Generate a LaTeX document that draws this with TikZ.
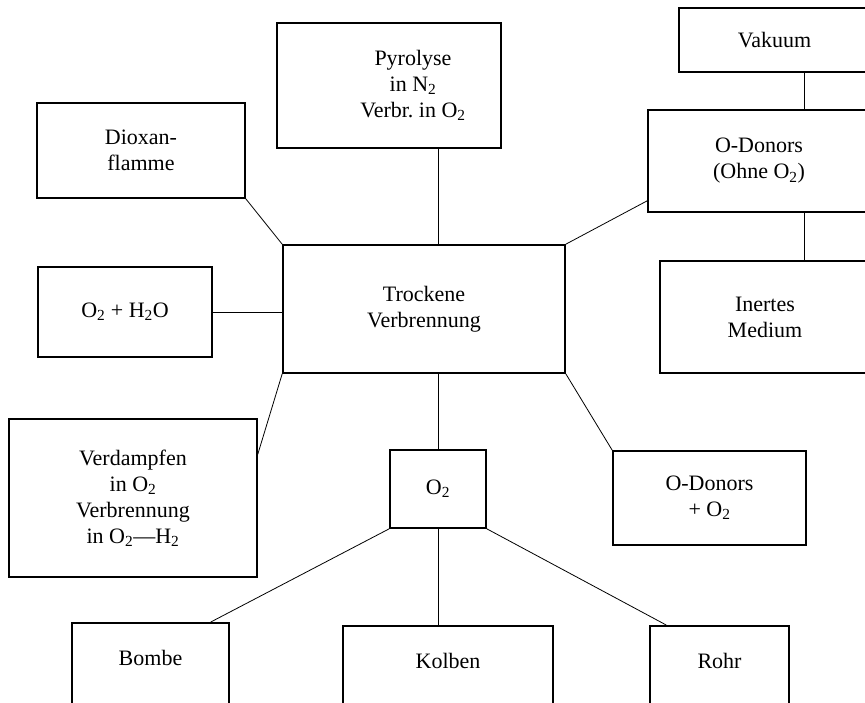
\documentclass[tikz,border=0pt]{standalone}
\usepackage{fontspec}
\setmainfont{Liberation Serif}
\tikzset{
  box/.style={rectangle,draw,line width=1.6pt,align=center,inner sep=0pt,
              font=\fontsize{22}{26}\selectfont},
  cut/.style={box,anchor=north,text height=43pt,text depth=80pt},
  lnk/.style={line width=0.8pt},
}

\begin{document}
\begin{tikzpicture}[x=1pt,y=-1pt]
  \useasboundingbox (0,0) rectangle (865,702);

  %% -- centre ---------------------------------------------------------------
  \node[box,minimum width=282pt,minimum height=128pt] (tv) at (424,309)
        {Trockene\\Verbrennung};

  %% -- left column ----------------------------------------------------------
  \node[box,minimum width=208pt,minimum height=95pt] (diox) at (141,150.5)
        {Dioxan-\\flamme};
  \node[box,minimum width=174pt,minimum height=90pt] (oh) at (125,312)
        {O\textsubscript{2} + H\textsubscript{2}O};
  \node[box,minimum width=248pt,minimum height=158pt] (verd) at (133,498)
        {Verdampfen\\in O\textsubscript{2}\\Verbrennung\\in O\textsubscript{2}---H\textsubscript{2}};

  %% -- top / middle ---------------------------------------------------------
  \node[box,minimum width=224pt,minimum height=125pt] (pyr) at (389,85.5)
        {\hspace*{48pt}Pyrolyse\\\hspace*{48pt}in N\textsubscript{2}\\\hspace*{48pt}Verbr.\ in O\textsubscript{2}};
  \node[box,minimum width=96pt,minimum height=78pt] (o2) at (438,489)
        {O\textsubscript{2}};

  %% -- right column ---------------------------------------------------------
  \coordinate (ax) at (804,0);
  \node[box,minimum width=191pt,minimum height=64pt] (vak) at (774.5,40)
        {Vakuum};
  \node[box,minimum width=222pt,minimum height=102pt] (odon) at (759,161)
        {O-Donors\\(Ohne O\textsubscript{2})};
  \node[box,minimum width=210pt,minimum height=112pt] (inert) at (765,317)
        {Inertes\\Medium};
  \node[box,minimum width=193pt,minimum height=94pt] (odo2) at (709.5,498)
        {O-Donors\\+ O\textsubscript{2}};

  %% -- bottom row -----------------------------------------------------------
  \node[cut,minimum width=157pt] (bombe)  at (150.5,622) {Bombe};
  \node[cut,minimum width=210pt] (kolben) at (448,625)   {Kolben};
  \node[cut,minimum width=139pt] (rohr)   at (719.5,625) {Rohr};

  %% -- connectors -----------------------------------------------------------
  \draw[lnk] (pyr.south -| o2) -- (tv.north -| o2);
  \draw[lnk] (diox.south east) -- (tv.north west);
  \draw[lnk] (oh.east) -- (oh.east -| tv.west);
  \draw[lnk] (tv.south west) -- ([yshift=-36pt]verd.north east);
  \draw[lnk] (tv.south -| o2) -- (o2.north);
  \draw[lnk] (tv.south east) -- (odo2.north west);
  \draw[lnk] (tv.north east) -- ([yshift=12pt]odon.south west);
  \draw[lnk] (vak.south -| ax) -- (odon.north -| ax);
  \draw[lnk] (odon.south -| ax) -- (inert.north -| ax);

  \draw[lnk] (o2.south west) -- ([xshift=-19pt]bombe.north east);
  \draw[lnk] (o2.south) -- (kolben.north -| o2);
  \draw[lnk] (o2.south east) -- ([xshift=17pt]rohr.north west);

\end{tikzpicture}
\end{document}
